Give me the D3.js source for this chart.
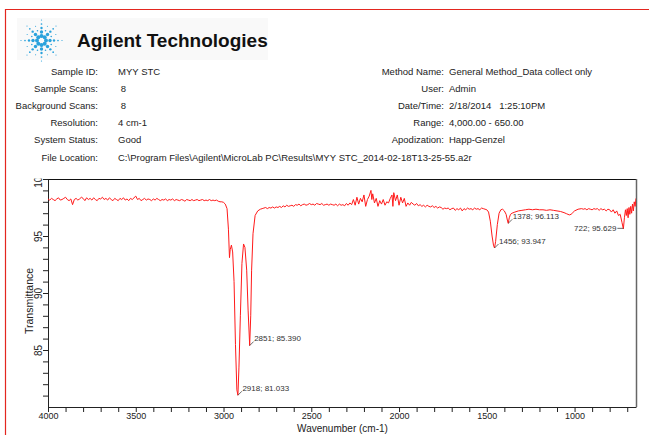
<!DOCTYPE html>
<html>
<head>
<meta charset="utf-8">
<title>MYY STC</title>
<script src="https://cdn.jsdelivr.net/npm/d3@7"></script>
<style>
    body { margin: 0; background: #fff; }
    svg { display: block; font-family: "Liberation Sans", Arial, sans-serif; }
</style>
</head>
<body>
<script>
    // header fields
    var leftLabels = ["Sample ID:", "Sample Scans:", "Background Scans:", "Resolution:", "System Status:", "File Location:"];
    var leftValues = ["MYY STC", " 8", " 8", "4 cm-1", "Good",
        "C:\\Program Files\\Agilent\\MicroLab PC\\Results\\MYY STC_2014-02-18T13-25-55.a2r"];
    var rightLabels = ["Method Name:", "User:", "Date/Time:", "Range:", "Apodization:"];
    var rightValues = ["General Method_Data collect only", "Admin", "2/18/2014   1:25:10PM", "4,000.00 - 650.00", "Happ-Genzel"];

    // spectrum: [wavenumber, %T]
    var spectrum = [
        [4000,98.25],[3990,98.15],[3980,98.3],[3970,98.2],[3960,98.1],[3950,98.25],[3940,98.35],[3930,98.15],
        [3920,98.2],[3910,98.3],[3900,98.4],[3890,98.2],[3880,98.1],[3870,98.25],[3860,97.75],[3850,98.2],
        [3840,98.3],[3830,98.15],[3820,98.25],[3810,98.4],[3800,98.3],[3790,98.1],[3780,98.35],[3770,98.2],
        [3760,98.3],[3750,98.15],[3740,98.35],[3730,98.2],[3720,98.1],[3710,98.3],[3700,98.25],[3690,98.4],
        [3680,98.2],[3670,98.3],[3660,98.15],[3650,98.35],[3640,98.2],[3630,98.1],[3620,98.3],[3610,98.2],
        [3600,98.1],[3590,98.3],[3580,98.2],[3570,98.35],[3560,98.15],[3550,98.25],[3540,98.1],[3530,98.3],
        [3520,98.2],[3510,98.35],[3500,98.5],[3490,98.2],[3480,98.3],[3470,98.1],[3460,98.2],[3450,98.3],
        [3440,98.15],[3430,98.25],[3420,98.2],[3410,98.1],[3400,98.25],[3390,98.15],[3380,98.3],[3370,98.2],
        [3360,98.1],[3350,98.2],[3340,98.15],[3330,98.25],[3320,98.1],[3310,98.2],[3300,98.15],[3290,98.25],
        [3280,98.1],[3270,98.2],[3260,98.15],[3250,98.1],[3240,98.2],[3230,98.15],[3220,98.05],[3210,98.2],
        [3200,98.15],[3190,98.1],[3180,98.2],[3170,98.1],[3160,98.15],[3150,98.2],[3140,98.1],[3130,98.15],
        [3120,98.2],[3110,98.1],[3100,98.15],[3090,98.1],[3080,98.2],[3070,98.1],[3060,98.15],[3050,98.1],
        [3040,98.15],[3030,98.05],[3020,98.0],[3010,98.0],[3000,97.95],[2990,97.8],[2980,97.4],[2972,95.6],
        [2966,93.1],[2962,93.8],[2955,94.2],[2948,93.6],[2940,91.0],[2932,85.5],[2924,81.5],[2918,81.033],
        [2912,83.5],[2904,88.0],[2895,92.6],[2886,94.3],[2878,94.0],[2868,92.0],[2860,88.5],[2851,85.39],
        [2845,88.0],[2840,92.0],[2832,95.2],[2820,96.8],[2805,97.2],[2790,97.35],[2780,97.4],[2770,97.45],
        [2760,97.5],[2750,97.4],[2740,97.5],[2730,97.45],[2720,97.55],[2710,97.45],[2700,97.55],[2690,97.5],
        [2680,97.6],[2670,97.5],[2660,97.65],[2650,97.55],[2640,97.7],[2630,97.6],[2620,97.65],[2610,97.7],
        [2600,97.6],[2590,97.75],[2580,97.7],[2570,97.8],[2560,97.65],[2550,97.75],[2540,97.8],[2530,97.7],
        [2520,97.75],[2510,97.85],[2500,97.75],[2490,97.8],[2480,97.7],[2470,97.85],[2460,97.8],[2450,97.75],
        [2440,97.85],[2430,97.7],[2420,97.75],[2410,97.8],[2400,97.7],[2390,97.8],[2380,97.75],[2370,97.7],
        [2360,97.8],[2350,97.65],[2340,97.8],[2330,97.7],[2320,97.75],[2310,97.65],[2300,97.85],[2290,97.7],
        [2280,97.9],[2270,97.75],[2260,98.2],[2250,97.7],[2240,98.4],[2230,97.8],[2220,98.3],[2210,98.0],
        [2200,98.6],[2190,97.6],[2180,98.2],[2170,98.5],[2160,99.0],[2155,98.2],[2150,98.7],[2140,97.9],
        [2130,98.3],[2120,97.6],[2110,98.1],[2100,97.8],[2090,98.2],[2080,97.7],[2070,98.0],[2060,97.9],
        [2050,98.3],[2040,98.6],[2035,97.6],[2030,98.8],[2020,98.1],[2010,98.6],[2000,97.7],[1990,98.4],
        [1980,97.9],[1970,98.3],[1960,97.6],[1950,97.9],[1940,97.7],[1930,97.95],[1920,97.8],[1910,97.7],
        [1900,97.85],[1890,97.65],[1880,97.75],[1870,97.6],[1860,97.7],[1850,97.55],[1840,97.7],[1830,97.6],
        [1820,97.55],[1810,97.65],[1800,97.5],[1790,97.6],[1780,97.45],[1770,97.55],[1760,97.5],[1750,97.35],
        [1740,97.45],[1730,97.4],[1720,97.45],[1710,97.3],[1700,97.4],[1690,97.45],[1680,97.25],[1670,97.4],
        [1660,97.3],[1650,97.45],[1640,97.2],[1630,97.4],[1620,97.3],[1610,97.45],[1600,97.35],[1590,97.4],
        [1580,97.3],[1570,97.45],[1560,97.35],[1550,97.4],[1540,97.3],[1530,97.45],[1520,97.4],[1510,97.35],
        [1500,97.3],[1490,97.1],[1480,96.3],[1470,95.0],[1462,94.2],[1456,93.947],[1450,94.5],[1440,96.0],
        [1430,97.0],[1420,97.3],[1410,97.35],[1400,97.2],[1390,96.9],[1383,96.4],[1378,96.113],[1372,96.6],
        [1365,96.9],[1356,97.0],[1340,97.1],[1320,97.2],[1300,97.25],[1280,97.3],[1260,97.35],[1240,97.3],
        [1220,97.35],[1200,97.3],[1180,97.3],[1160,97.25],[1140,97.3],[1120,97.25],[1100,97.2],[1080,97.15],
        [1060,97.05],[1045,96.95],[1030,96.85],[1020,96.9],[1010,97.05],[1000,97.2],[980,97.35],[960,97.4],
        [950,97.35],[940,97.4],[930,97.3],[920,97.4],[910,97.35],[900,97.3],[890,97.4],[880,97.35],
        [870,97.4],[860,97.25],[850,97.4],[840,97.3],[830,97.35],[820,97.2],[810,97.35],[800,97.3],
        [790,97.1],[780,97.3],[770,97.0],[760,97.2],[750,96.8],[740,96.9],[730,96.2],[722,95.629],
        [716,96.6],[710,97.3],[705,96.8],[700,97.4],[695,96.6],[690,97.5],[685,96.9],[680,97.6],
        [675,97.0],[670,97.8],[665,97.2],[660,98.0],[655,97.6],[650,98.3]
    ];

    var peakWavenumbers = [2918, 2851, 1456, 1378, 722];
    var peakValues = [81.033, 85.390, 93.947, 96.113, 95.629];

    var xTicks = d3.range(700, 4001, 100),
        xLabels = [4000, 3500, 3000, 2500, 2000, 1500, 1000],
        yTicks = d3.range(81, 101, 1),
        yLabels = [85, 90, 95, 100];

    var width = 649, height = 435,
        margin = {left: 48, top: 179, right: 13, bottom: 28};

    var svg = d3.select("body").append("svg")
            .attr("width", width)
            .attr("height", height);

    // red page frame
    svg.append("path")
            .attr("d", "M5.5," + height + "V9.5H" + width)
            .attr("fill", "none")
            .attr("stroke", "#e3261f")
            .attr("stroke-width", 1.2);

    // logo block
    svg.append("rect")
            .attr("x", 17).attr("y", 18).attr("width", 251).attr("height", 42)
            .attr("fill", "#f9f9f9");

    var logo = svg.append("g").attr("transform", "translate(41.5,40.5)");
    var armDist = [4.5, 8.5, 12.5, 16.5, 20.5],
        armSize = [2.0, 1.7, 1.2, 0.85, 0.6];
    for (var a = 0; a < 8; a++) {
        var ang = a * Math.PI / 4;
        armDist.forEach(function (d, j) {
            logo.append("circle")
                    .attr("cx", d * Math.cos(ang))
                    .attr("cy", d * Math.sin(ang))
                    .attr("r", armSize[j])
                    .attr("fill", "#2aa2dc");
        });
    }
    for (var b = 0; b < 8; b++) {
        var ang2 = b * Math.PI / 4 + Math.PI / 8;
        [10.5, 15.5].forEach(function (d, j) {
            logo.append("circle")
                    .attr("cx", d * Math.cos(ang2))
                    .attr("cy", d * Math.sin(ang2))
                    .attr("r", j ? 0.55 : 0.8)
                    .attr("fill", "#2aa2dc");
        });
    }

    svg.append("text")
            .attr("x", 77).attr("y", 47)
            .attr("font-size", 19).attr("font-weight", "bold")
            .attr("fill", "#111")
            .text("Agilent Technologies");

    // header fields
    var meta = svg.append("g")
            .attr("font-size", 9.5)
            .attr("fill", "#222");

    function keepSpaces(s) { return s.replace(/ /g, "\u00a0"); }

    leftLabels.forEach(function (t, i) {
        var y = 74.5 + i * 17.2;
        meta.append("text").attr("x", 98).attr("y", y).attr("text-anchor", "end").text(t);
        meta.append("text").attr("x", 118).attr("y", y).text(keepSpaces(leftValues[i]));
    });
    rightLabels.forEach(function (t, i) {
        var y = 74.5 + i * 17.2;
        meta.append("text").attr("x", 444).attr("y", y).attr("text-anchor", "end").text(t);
        meta.append("text").attr("x", 449).attr("y", y).text(keepSpaces(rightValues[i]));
    });

    // plot
    var x = d3.scaleLinear().domain([4000, 650]).range([margin.left, width - margin.right]),
        y = d3.scaleLinear().domain([80, 100]).range([height - margin.bottom, margin.top]);

    var defs = svg.append("defs");
    defs.append("clipPath")
            .attr("id", "plotclip")
            .append("rect")
            .attr("x", x(4000)).attr("y", y(100))
            .attr("width", x(650) - x(4000)).attr("height", y(80) - y(100));
    defs.append("clipPath")
            .attr("id", "yclip")
            .append("rect")
            .attr("x", 0).attr("y", y(100) - 0.5)
            .attr("width", width).attr("height", height);

    // top + right frame
    svg.append("path")
            .attr("d", "M" + x(4000) + "," + (y(100) + 0.5) + "H" + (x(650) + 0.5))
            .attr("stroke", "#111").attr("fill", "none");
    svg.append("path")
            .attr("d", "M" + (x(650) + 0.5) + "," + y(100) + "V" + y(80))
            .attr("stroke", "#666").attr("stroke-width", 1.5).attr("fill", "none");

    var xAxis = d3.axisBottom(x)
            .tickValues(xTicks)
            .tickSize(5)
            .tickSizeOuter(0)
            .tickFormat(function (d) { return xLabels.indexOf(d) >= 0 ? d : ""; });

    var gx = svg.append("g")
            .attr("transform", "translate(0," + y(80) + ")")
            .call(xAxis);
    gx.selectAll("text").attr("font-size", 9).attr("fill", "#222").attr("y", 6);
    gx.selectAll("line, path").attr("stroke", "#222");

    var yAxis = d3.axisLeft(y)
            .tickValues(yTicks)
            .tickSize(5)
            .tickSizeOuter(0)
            .tickFormat(function (d) { return yLabels.indexOf(d) >= 0 ? d : ""; });

    var gy = svg.append("g").attr("clip-path", "url(#yclip)")
            .append("g")
            .attr("transform", "translate(" + x(4000) + ",0)")
            .call(yAxis);
    gy.selectAll("line, path").attr("stroke", "#222");
    gy.selectAll("text")
            .attr("font-size", 10)
            .attr("fill", "#222")
            .attr("text-anchor", "middle")
            .attr("transform", "rotate(-90)")
            .attr("x", 0).attr("y", -6).attr("dy", 0);

    svg.append("text")
            .attr("transform", "translate(33," + y(89.3) + ") rotate(-90)")
            .attr("text-anchor", "middle")
            .attr("font-size", 10.5).attr("fill", "#222")
            .text("Transmittance");

    svg.append("text")
            .attr("x", (x(4000) + x(650)) / 2 + 0.5)
            .attr("y", 432)
            .attr("text-anchor", "middle")
            .attr("font-size", 10).attr("fill", "#222")
            .text("Wavenumber (cm-1)");

    // spectrum
    var line = d3.line()
            .x(function (d) { return x(d[0]); })
            .y(function (d) { return y(d[1]); });

    svg.append("path")
            .datum(spectrum)
            .attr("clip-path", "url(#plotclip)")
            .attr("fill", "none")
            .attr("stroke", "#ff1a1a")
            .attr("stroke-width", 1)
            .attr("stroke-linejoin", "round")
            .attr("d", line);

    // peak labels
    var peaks = svg.append("g").attr("font-size", 8).attr("fill", "#333");
    peakWavenumbers.forEach(function (wn, i) {
        var px = x(wn), py = y(peakValues[i]);
        var t = peaks.append("text").text(wn + "; " + peakValues[i].toFixed(3));
        var w = t.node().getComputedTextLength();
        if (px + 5 + w > x(650)) {
            // no room on the right: put it left with a flat leader
            peaks.append("line")
                    .attr("x1", px).attr("y1", py - 0.5).attr("x2", px - 6).attr("y2", py - 0.5)
                    .attr("stroke", "#444").attr("stroke-width", 0.8);
            t.attr("x", px - 7).attr("y", py + 2).attr("text-anchor", "end");
        } else {
            peaks.append("line")
                    .attr("x1", px).attr("y1", py).attr("x2", px + 4).attr("y2", py - 4)
                    .attr("stroke", "#444").attr("stroke-width", 0.8);
            t.attr("x", px + 4.5).attr("y", py - 4.5);
        }
    });
</script>
</body>
</html>
